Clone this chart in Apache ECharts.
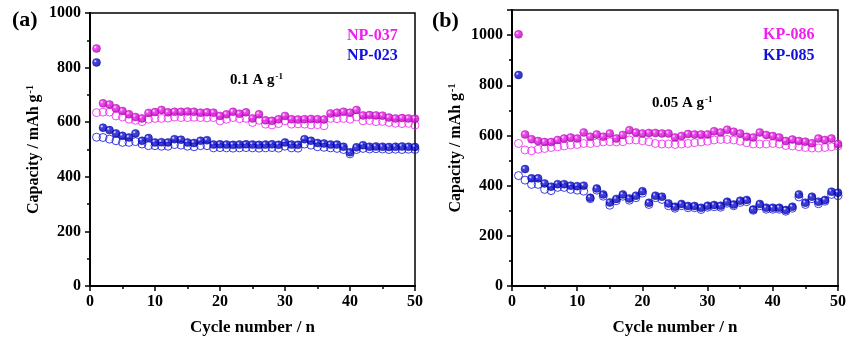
<!DOCTYPE html>
<html lang="en">
    <head>
        <meta charset="utf-8">
        <title>Cycling capacity</title>
        <script src="https://cdn.jsdelivr.net/npm/echarts@6/dist/echarts.min.js"></script>
    </head>
    <body style="margin:0;background:#fff;">
        <div id="main" style="width: 850px;height:347px;"></div>
        <script type="text/javascript">
            // cycle index shared by both panels
            var cycles = [1, 2, 3, 4, 5, 6, 7, 8, 9, 10, 11, 12, 13, 14, 15, 16, 17, 18, 19, 20,
                21, 22, 23, 24, 25, 26, 27, 28, 29, 30, 31, 32, 33, 34, 35, 36, 37, 38, 39, 40,
                41, 42, 43, 44, 45, 46, 47, 48, 49, 50];

            // (a) 0.1 A/g
            var np037Dis = [870, 669, 665, 651, 641, 629, 619, 614, 634, 637, 645, 636, 638, 638, 639, 638, 635, 636, 635, 623,
                629, 638, 631, 636, 614, 629, 607, 605, 611, 623, 611, 610, 611, 612, 611, 610, 632, 635, 638, 635,
                645, 625, 626, 625, 624, 617, 614, 615, 614, 613];
            var np037Chg = [635, 637, 637, 623, 619, 611, 607, 602, 611, 614, 614, 615, 619, 617, 617, 618, 617, 616, 617, 605,
                611, 617, 613, 614, 599, 607, 593, 590, 595, 605, 593, 594, 593, 590, 591, 587, 614, 613, 614, 611,
                619, 605, 606, 602, 603, 599, 596, 595, 596, 589];
            var np023Dis = [819, 580, 571, 559, 550, 544, 559, 532, 542, 526, 527, 526, 538, 536, 526, 524, 532, 534, 518, 519,
                518, 517, 518, 519, 518, 517, 518, 519, 517, 526, 518, 517, 538, 532, 524, 522, 518, 518, 510, 490,
                508, 516, 510, 511, 510, 509, 510, 511, 510, 509];
            var np023Chg = [545, 544, 538, 532, 526, 526, 529, 520, 514, 514, 512, 512, 518, 516, 512, 510, 514, 514, 506, 507,
                506, 505, 506, 507, 506, 505, 506, 507, 505, 512, 506, 505, 520, 516, 510, 508, 506, 504, 500, 484,
                500, 504, 502, 503, 502, 500, 501, 500, 501, 500];

            // (b) 0.05 A/g
            var kp086Dis = [1003, 604, 585, 578, 574, 574, 582, 588, 592, 588, 612, 595, 604, 595, 608, 588, 602, 621, 612, 608,
                610, 610, 608, 608, 592, 598, 606, 604, 604, 604, 617, 612, 623, 615, 608, 595, 592, 612, 602, 598,
                592, 578, 584, 578, 575, 569, 588, 582, 588, 566];
            var kp086Chg = [568, 542, 539, 545, 548, 552, 555, 558, 562, 564, 568, 568, 571, 574, 575, 574, 575, 582, 582, 579,
                575, 568, 566, 566, 564, 566, 568, 571, 574, 577, 582, 584, 584, 582, 577, 571, 566, 566, 566, 568,
                566, 560, 558, 555, 552, 550, 550, 552, 555, 558];
            var kp085Dis = [841, 466, 429, 429, 409, 396, 406, 406, 400, 398, 400, 352, 389, 365, 333, 347, 365, 349, 360, 378,
                332, 360, 356, 329, 316, 327, 319, 319, 312, 320, 323, 320, 336, 325, 340, 343, 305, 327, 312, 312,
                312, 303, 316, 365, 332, 356, 336, 343, 376, 372];
            var kp085Chg = [440, 422, 405, 405, 385, 380, 393, 393, 385, 382, 378, 348, 382, 358, 322, 340, 358, 342, 352, 370,
                325, 352, 345, 320, 310, 320, 312, 312, 305, 314, 316, 314, 330, 320, 333, 336, 302, 320, 306, 306,
                306, 298, 310, 355, 325, 348, 328, 338, 365, 360];

            var yTicksA = [0, 1000];
            var yTicksB = [0, 1100];

            var PINK = '#f01ef0';
            var BLUE = '#1010e0';
            var FONT = '"Liberation Serif", "Times New Roman", serif';

            function pairs(vals) {
                var res = [];
                for (var i = 0; i < vals.length; i++) {
                    res.push([cycles[i], vals[i]]);
                }
                return res;
            }

            function ball(c, dark) {
                return {
                    type: 'radial', x: 0.35, y: 0.35, r: 0.75,
                    colorStops: [{offset: 0, color: '#ffffff'}, {offset: 0.25, color: c}, {offset: 1, color: dark}]
                };
            }

            function filled(vals, idx, c, dark) {
                return {
                    type: 'scatter', xAxisIndex: idx, yAxisIndex: idx,
                    data: pairs(vals), symbolSize: 8, z: 3,
                    itemStyle: {color: ball(c, dark), borderColor: dark, borderWidth: 0.5}
                };
            }

            function hollow(vals, idx, c) {
                return {
                    type: 'scatter', xAxisIndex: idx, yAxisIndex: idx,
                    data: pairs(vals), symbolSize: 8, z: 2,
                    itemStyle: {color: 'rgba(255,255,255,0)', borderColor: c, borderWidth: 1}
                };
            }

            function xAx(idx) {
                return {
                    gridIndex: idx, type: 'value', min: 0, max: 50, interval: 10,
                    name: 'Cycle number / n', nameLocation: 'middle', nameGap: 33,
                    nameTextStyle: {fontFamily: FONT, fontWeight: 'bold', fontSize: 17, color: '#000'},
                    axisLine: {lineStyle: {color: '#000', width: 2}},
                    axisTick: {length: 5, lineStyle: {width: 1.5}},
                    minorTick: {show: true, splitNumber: 2, length: 3, lineStyle: {color: '#000', width: 1.5}},
                    splitLine: {show: false},
                    axisLabel: {margin: 8, fontFamily: FONT, fontWeight: 'bold', fontSize: 16, color: '#000'}
                };
            }

            function yAx(idx, ticks, gap) {
                return {
                    gridIndex: idx, type: 'value', min: ticks[0], max: ticks[1], interval: 200,
                    name: '{n|Capacity / mAh g}{s|-1}', nameLocation: 'middle', nameGap: gap,
                    nameTextStyle: {
                        color: '#000',
                        rich: {
                            n: {fontFamily: FONT, fontWeight: 'bold', fontSize: 16, color: '#000'},
                            s: {fontFamily: FONT, fontWeight: 'bold', fontSize: 10, color: '#000', verticalAlign: 'top', padding: [0, 0, 8, 1]}
                        }
                    },
                    axisLine: {lineStyle: {color: '#000', width: 2}},
                    axisTick: {length: 5, lineStyle: {width: 1.5}},
                    minorTick: {show: true, splitNumber: 2, length: 3, lineStyle: {color: '#000', width: 1.5}},
                    splitLine: {show: false},
                    axisLabel: {
                        margin: 9, showMaxLabel: ticks[1] % 200 === 0,
                        formatter: function(v) { return String(v); },
                        fontFamily: FONT, fontWeight: 'bold', fontSize: 16, color: '#000'
                    }
                };
            }

            function label(text, left, top, size, color) {
                return {
                    text: text, left: left, top: top, padding: 0,
                    textStyle: {
                        fontFamily: FONT, fontWeight: 'bold', fontSize: size, color: color,
                        rich: {
                            t: {fontFamily: FONT, fontWeight: 'bold', fontSize: size, color: color},
                            s: {fontFamily: FONT, fontWeight: 'bold', fontSize: 9, color: color, verticalAlign: 'top', padding: [0, 0, 8, 1]}
                        }
                    }
                };
            }

            var myChart = echarts.init(document.getElementById('main'));

            myChart.setOption({
                backgroundColor: '#fff',
                animation: false,
                title: [
                    label('(a)', 12, 9, 22, '#000'),
                    label('(b)', 432, 10, 22, '#000'),
                    label('NP-037', 347, 28, 16, PINK),
                    label('NP-023', 347, 48, 16, BLUE),
                    label('KP-086', 763, 27, 16, PINK),
                    label('KP-085', 763, 48, 16, BLUE),
                    label('{t|0.1 A g}{s|-1}', 230, 72, 15, '#000'),
                    label('{t|0.05 A g}{s|-1}', 652, 95, 15, '#000')
                ],
                grid: [
                    {left: 90, right: 435, top: 13, bottom: 61, show: true, borderColor: '#000', borderWidth: 1.5},
                    {left: 512, right: 12, top: 10, bottom: 61, show: true, borderColor: '#000', borderWidth: 1.5}
                ],
                xAxis: [xAx(0), xAx(1)],
                yAxis: [yAx(0, yTicksA, 47), yAx(1, yTicksB, 47)],
                series: [
                    hollow(np037Chg, 0, PINK),
                    hollow(np023Chg, 0, BLUE),
                    filled(np037Dis, 0, PINK, '#a000a0'),
                    filled(np023Dis, 0, BLUE, '#000090'),
                    hollow(kp086Chg, 1, PINK),
                    hollow(kp085Chg, 1, BLUE),
                    filled(kp086Dis, 1, PINK, '#a000a0'),
                    filled(kp085Dis, 1, BLUE, '#000090')
                ]
            });
        </script>
    </body>
</html>
